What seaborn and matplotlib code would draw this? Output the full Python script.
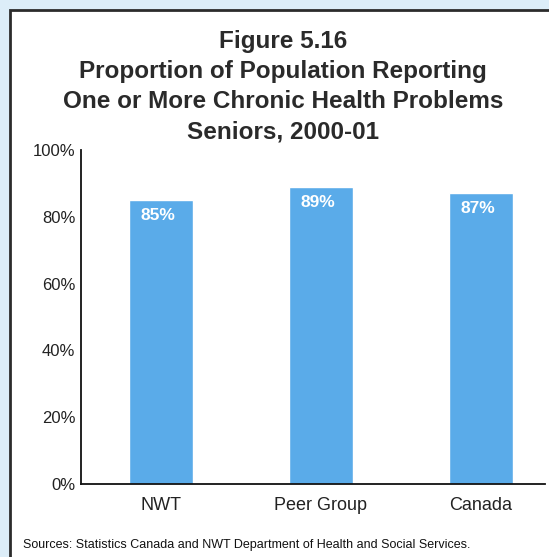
import matplotlib
matplotlib.use("Agg")
import matplotlib.pyplot as plt
import matplotlib.patches as mpatches
import seaborn as sns
import pandas as pd

categories = ["NWT", "Peer Group", "Canada"]
values = [85, 89, 87]
value_labels = ["85%", "89%", "87%"]
yticks = [0, 20, 40, 60, 80, 100]
ytick_labels = ["0%", "20%", "40%", "60%", "80%", "100%"]
title_lines = ["Figure 5.16",
               "Proportion of Population Reporting",
               "One or More Chronic Health Problems",
               "Seniors, 2000-01"]
source_text = "Sources: Statistics Canada and NWT Department of Health and Social Services."

sns.set_theme(style="white")
plt.rcParams["font.family"] = ["Liberation Sans", "DejaVu Sans"]

W, H = 549, 557
fig = plt.figure(figsize=(W / 100, H / 100), dpi=100)
fig.patch.set_facecolor("#dcedf8")

# white panel with dark border
panel = mpatches.Rectangle((10 / W, -0.05), 1.2, 1 - 10 / H + 0.05,
                           transform=fig.transFigure, facecolor="white",
                           edgecolor="#2b2b2b", linewidth=2, zorder=-5)
fig.patches.append(panel)

ax = fig.add_axes([81 / W, (H - 484) / H, 464 / W, 334 / H])
ax.set_zorder(5)
ax.set_facecolor("none")
df = pd.DataFrame({"cat": categories, "val": values})
sns.barplot(data=df, x="cat", y="val", color="#5aabe9", saturation=1,
            width=0.4, ax=ax)
ax.set_xlim(-0.5, 2.4)
ax.set_ylim(0, 100)
ax.set_yticks(yticks)
ax.set_yticklabels(ytick_labels, fontsize=12, color="#222222")
ax.tick_params(axis="y", length=0, pad=4)
ax.tick_params(axis="x", length=0, pad=9, labelsize=13, labelcolor="#222222")
ax.set_xlabel("")
ax.set_ylabel("")
for s in ["top", "right"]:
    ax.spines[s].set_visible(False)
for s in ["left", "bottom"]:
    ax.spines[s].set_color("#111111")
    ax.spines[s].set_linewidth(1.3)

for i, (v, lab) in enumerate(zip(values, value_labels)):
    ax.annotate(lab, xy=(i, v), xytext=(-2, -11), textcoords="offset points",
                ha="center", va="center", color="white", fontsize=12.5,
                fontweight="bold")

baselines = [48, 78, 108, 138]
for line, b in zip(title_lines, baselines):
    fig.text(283 / W, 1 - b / H, line, ha="center", va="baseline",
             fontsize=17.5, fontweight="bold", color="#2a2a2a")

fig.text(23 / W, 1 - 545 / H, source_text, ha="left", va="center",
         fontsize=9, color="#111111")

fig.savefig("out.png", dpi=100, facecolor=fig.get_facecolor())
